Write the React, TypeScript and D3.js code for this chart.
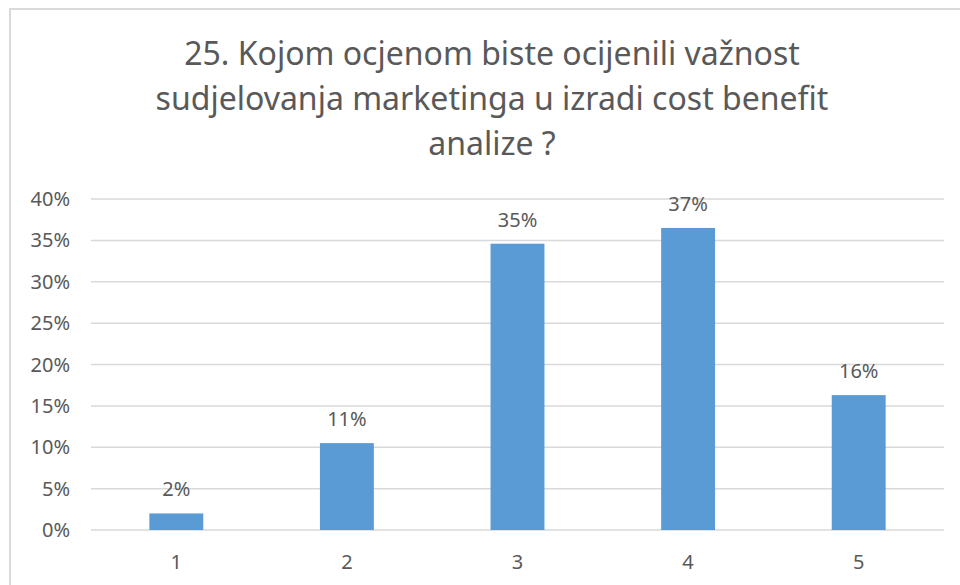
import * as d3 from "d3";

const categories = ["1", "2", "3", "4", "5"];
const values = [0.02, 0.105, 0.346, 0.365, 0.163];
const valueLabels = ["2%", "11%", "35%", "37%", "16%"];
const yTicks = [0, 0.05, 0.1, 0.15, 0.2, 0.25, 0.3, 0.35, 0.4];
const titleLines = [
  "25. Kojom ocjenom biste ocijenili važnost",
  "sudjelovanja marketinga u izradi cost benefit",
  "analize ?",
];

export default function App() {
  const width = 960;
  const height = 585;
  const marginLeft = 91;
  const marginRight = 16;
  const marginTop = 199;
  const marginBottom = 55;
  const font = "'Noto Sans', 'Open Sans', sans-serif";
  const textColor = "#595959";

  const x = d3
    .scaleBand()
    .domain(categories)
    .range([marginLeft, width - marginRight])
    .paddingInner(0.684)
    .paddingOuter(0.342);
  const y = d3
    .scaleLinear()
    .domain([0, 0.4])
    .range([height - marginBottom, marginTop]);
  const fmt = d3.format(".0%");

  return (
    <svg
      width={width}
      height={height}
      style={{ position: "absolute", left: 0, top: 0, background: "#fff" }}
    >
      <rect x={10} y={9} width={970} height={600} fill="#fff" stroke="#d9d9d9" strokeWidth={2} />
      <g fontFamily={font} fill={textColor} textAnchor="middle" fontSize={32}>
        {titleLines.map((t, i) => (
          <text key={i} x={492} y={65 + i * 45}>
            {t}
          </text>
        ))}
      </g>
      <g stroke="#d9d9d9" strokeWidth={1.5}>
        {yTicks.map((t) => (
          <line key={t} x1={marginLeft} x2={width - marginRight} y1={y(t)} y2={y(t)} />
        ))}
      </g>
      <g fontFamily={font} fill={textColor} fontSize={20} textAnchor="end">
        {yTicks.map((t) => (
          <text key={t} x={70} y={y(t)} dy="0.35em">
            {fmt(t)}
          </text>
        ))}
      </g>
      <g fill="#5b9bd5">
        {values.map((v, i) => (
          <rect
            key={i}
            x={x(categories[i])}
            y={y(v)}
            width={x.bandwidth()}
            height={y(0) - y(v)}
          />
        ))}
      </g>
      <g fontFamily={font} fill={textColor} fontSize={20} textAnchor="middle">
        {values.map((v, i) => (
          <text key={i} x={x(categories[i])! + x.bandwidth() / 2} y={y(v) - 17}>
            {valueLabels[i]}
          </text>
        ))}
        {categories.map((c) => (
          <text key={c} x={x(c)! + x.bandwidth() / 2} y={569}>
            {c}
          </text>
        ))}
      </g>
    </svg>
  );
}
